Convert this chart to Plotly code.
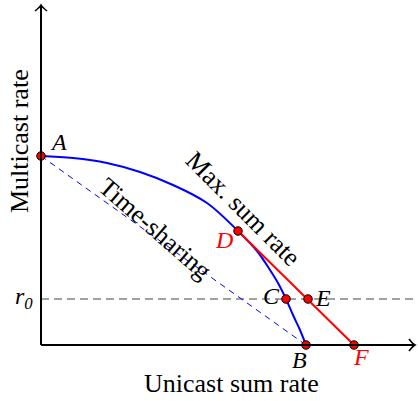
import plotly.graph_objects as go

# Data (arbitrary units, origin at axes corner)
curve_x = [0, 32, 66, 99, 132, 166, 197, 216, 229, 237, 245, 252, 259, 265]
curve_y = [189, 187, 182, 173, 160, 142, 114, 94, 75, 62, 46, 30, 15, 0]
timeshare_x = [0, 265]
timeshare_y = [189, 0]
maxsum_x = [197, 313]
maxsum_y = [114, 0]
r0 = 46
point_names = ["A", "B", "C", "D", "E", "F"]
point_x = [0, 265, 245, 197, 267, 313]
point_y = [189, 0, 46, 114, 46, 0]
x_end = 374
y_end = 340

BLUE = "#0000ff"
RED = "#ff0000"
FONT = "Liberation Serif"

fig = go.Figure()
# r0 dashed line
fig.add_trace(go.Scatter(x=[0, 377], y=[r0, r0], mode="lines",
                         line=dict(color="#444444", width=1.1, dash="8px,5px"),
                         hoverinfo="skip", showlegend=False))
# time-sharing
fig.add_trace(go.Scatter(x=timeshare_x, y=timeshare_y, mode="lines",
                         line=dict(color=BLUE, width=1, dash="6px,5px"),
                         hoverinfo="skip", showlegend=False))
# capacity curve
fig.add_trace(go.Scatter(x=curve_x, y=curve_y, mode="lines",
                         line=dict(color=BLUE, width=2, shape="spline", smoothing=1.0),
                         hoverinfo="skip", showlegend=False))
# max sum rate
fig.add_trace(go.Scatter(x=maxsum_x, y=maxsum_y, mode="lines",
                         line=dict(color=RED, width=2),
                         hoverinfo="skip", showlegend=False))
# axes
fig.add_shape(type="line", x0=0, y0=0, x1=x_end, y1=0, line=dict(color="black", width=2))
fig.add_shape(type="line", x0=0, y0=0, x1=0, y1=y_end, line=dict(color="black", width=2))
fig.add_shape(type="path",
              path=f"M {x_end-6},{-6} Q {x_end-2},{-1} {x_end},0 Q {x_end-2},1 {x_end-6},6",
              line=dict(color="black", width=1.6))
fig.add_shape(type="path",
              path=f"M -6,{y_end-6} Q -1,{y_end-2} 0,{y_end} Q 1,{y_end-2} 6,{y_end-6}",
              line=dict(color="black", width=1.6))
# points
fig.add_trace(go.Scatter(x=point_x, y=point_y, mode="markers",
                         marker=dict(color=RED, size=8.5, line=dict(color="black", width=1)),
                         hoverinfo="skip", showlegend=False))

def lab(x, y, text, color="black", size=24, angle=0, italic=True):
    t = f"<i>{text}</i>" if italic else text
    fig.add_annotation(x=x, y=y, text=t, showarrow=False, textangle=angle,
                       font=dict(family=FONT, size=size, color=color),
                       xanchor="center", yanchor="middle")

lab(17, 203, "A")
lab(-17, 47, "r<sub>0</sub>")
lab(183, 105, "D", color=RED)
lab(230, 49, "C")
lab(282, 47, "E")
lab(258, -15, "B")
lab(320, -12, "F", color=RED)

lab(202, 137, "Max. sum rate", size=26, angle=45, italic=False)
lab(114, 117, "Time-sharing", size=26, angle=41, italic=False)
lab(190, -38, "Unicast sum rate", size=26, italic=False)
lab(-22, 204, "Multicast rate", size=26, angle=-90, italic=False)

fig.update_layout(
    width=418, height=401,
    margin=dict(l=0, r=0, t=0, b=0),
    paper_bgcolor="white", plot_bgcolor="white",
    xaxis=dict(range=[-41, 377], visible=False, fixedrange=True),
    yaxis=dict(range=[-56, 345], visible=False, fixedrange=True),
    showlegend=False,
)
fig.write_html("out.html", config={"displayModeBar": False},
               post_script="document.body.style.margin='0';document.body.style.overflow='hidden';")
